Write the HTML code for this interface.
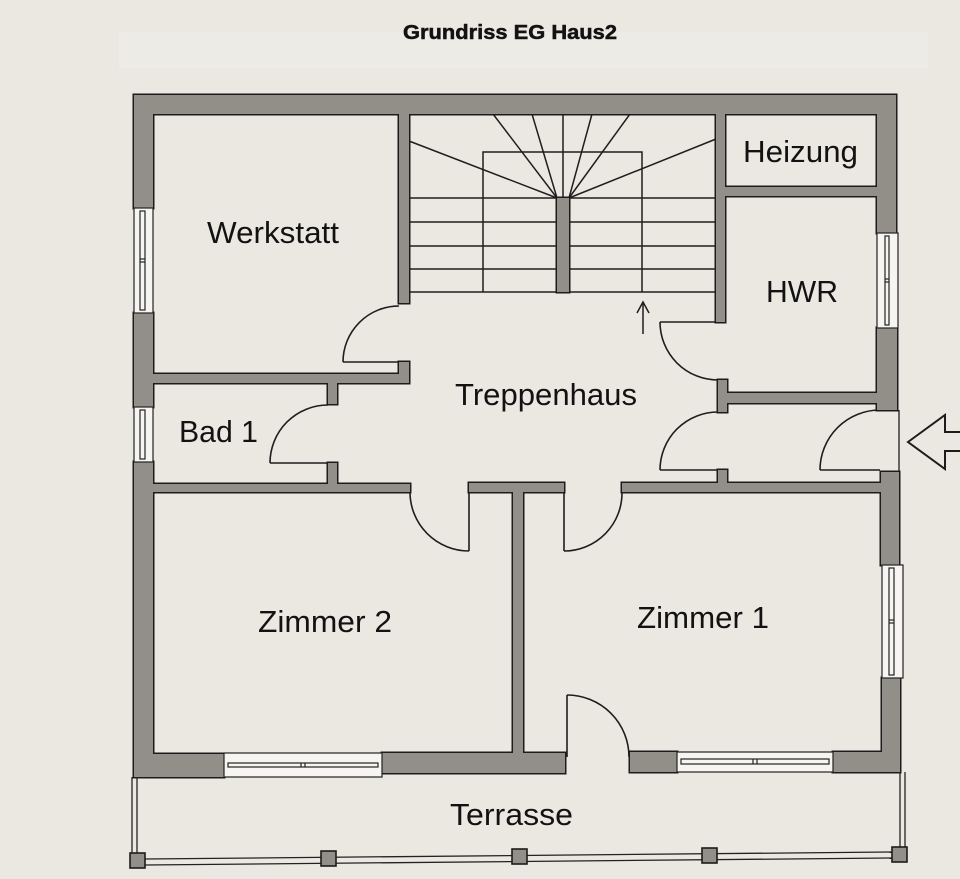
<!DOCTYPE html>
<html>
<head>
<meta charset="utf-8">
<style>
  html, body { margin:0; padding:0; background:#ebe8e2; }
  svg { display:block; }
  text { font-family: "Liberation Sans", Arial, sans-serif; fill:#121212; }
</style>
</head>
<body>
<svg width="960" height="879" viewBox="0 0 960 879" xmlns="http://www.w3.org/2000/svg">
  <rect x="0" y="0" width="960" height="879" fill="#ebe8e2"/>
  <rect x="119" y="32" width="809" height="36" fill="#edebe6"/>

  <!-- Title -->
  <text x="403" y="39" font-size="20" font-weight="bold" textLength="214" lengthAdjust="spacingAndGlyphs" stroke="#121212" stroke-width="0.5">Grundriss EG Haus2</text>

  <!-- Stairs -->
  <g stroke="#1e1e1e" stroke-width="1.5" fill="none">
    <line x1="409" y1="198" x2="716" y2="198"/>
    <line x1="409" y1="222" x2="716" y2="222"/>
    <line x1="409" y1="246" x2="716" y2="246"/>
    <line x1="409" y1="269" x2="716" y2="269"/>
    <line x1="409" y1="292" x2="716" y2="292"/>
    <polyline points="483,292 483,152 642,152 642,292"/>
    <line x1="409" y1="141" x2="557" y2="198"/>
    <line x1="493" y1="114" x2="557" y2="198"/>
    <line x1="532" y1="114" x2="557" y2="198"/>
    <line x1="563" y1="114" x2="563" y2="198"/>
    <line x1="592" y1="114" x2="569" y2="198"/>
    <line x1="630" y1="114" x2="569" y2="198"/>
    <line x1="716" y1="139" x2="569" y2="198"/>
    <!-- stair arrow -->
    <line x1="643" y1="303" x2="643" y2="334"/>
    <polyline points="637,313 643,302 649,313"/>
  </g>

  <!-- Doors -->
  <g stroke="#1e1e1e" stroke-width="1.6" fill="none">
    <line x1="343" y1="362" x2="399" y2="362"/>
    <path d="M343,362 A56,56 0 0 1 399,306"/>
    <line x1="270" y1="463" x2="328" y2="463"/>
    <path d="M270,463 A58,58 0 0 1 328,405"/>
    <line x1="469" y1="492" x2="469" y2="551"/>
    <path d="M410,492 A59,59 0 0 0 469,551"/>
    <line x1="564" y1="492" x2="564" y2="551"/>
    <path d="M564,551 A58,58 0 0 0 622,492"/>
    <line x1="660" y1="322" x2="718" y2="322"/>
    <path d="M660,322 A58,58 0 0 0 718,380"/>
    <line x1="660" y1="470" x2="718" y2="470"/>
    <path d="M660,470 A58,58 0 0 1 718,412"/>
    <line x1="820" y1="470" x2="880" y2="470"/>
    <path d="M820,470 A60,60 0 0 1 880,410"/>
    <line x1="899" y1="410" x2="899" y2="472" stroke-width="1.3"/>
    <line x1="567" y1="695" x2="567" y2="757"/>
    <path d="M567,695 A62,62 0 0 1 629,757"/>
  </g>

  <!-- Walls -->
  <defs>
    <g id="w">
      <rect x="134" y="95" width="762" height="19"/>
      <rect x="134" y="95" width="19" height="113"/>
      <rect x="134" y="313" width="19" height="94"/>
      <rect x="134" y="462" width="19" height="315"/>
      <rect x="877" y="95" width="19" height="138"/>
      <rect x="877" y="328" width="20" height="82"/>
      <rect x="881" y="472" width="18" height="93"/>
      <rect x="882" y="678" width="18" height="94"/>
      <rect x="134" y="754" width="90" height="23"/>
      <rect x="382" y="753" width="183" height="20"/>
      <rect x="630" y="752" width="47" height="20"/>
      <rect x="833" y="752" width="67" height="20"/>
      <rect x="399" y="114" width="10" height="189"/>
      <rect x="399" y="362" width="10" height="21"/>
      <rect x="153" y="374" width="256" height="9"/>
      <rect x="328" y="383" width="9" height="21"/>
      <rect x="328" y="463" width="9" height="22"/>
      <rect x="153" y="484" width="257" height="8"/>
      <rect x="469" y="483" width="95" height="9"/>
      <rect x="513" y="492" width="10" height="261"/>
      <rect x="622" y="483" width="260" height="9"/>
      <rect x="716" y="114" width="9" height="208"/>
      <rect x="725" y="187" width="152" height="9"/>
      <rect x="718" y="380" width="9" height="32"/>
      <rect x="718" y="393" width="160" height="10"/>
      <rect x="718" y="470" width="9" height="13"/>
      <rect x="557" y="198" width="12" height="94"/>
    </g>
  </defs>
  <use href="#w" fill="#1c1c1c" stroke="#1c1c1c" stroke-width="3"/>
  <use href="#w" fill="#918f88" stroke="none"/>

  <!-- Windows -->
  <g fill="#f6f5f1" stroke="#222" stroke-width="1.2">
    <rect x="134" y="208" width="19" height="105"/>
    <rect x="140" y="211" width="5" height="99"/>
    <line x1="140" y1="259" x2="145" y2="259"/><line x1="140" y1="262" x2="145" y2="262"/>

    <rect x="134" y="407" width="19" height="55"/>
    <rect x="140" y="410" width="5" height="49"/>

    <rect x="877" y="233" width="21" height="95"/>
    <rect x="885" y="236" width="4" height="89"/>
    <line x1="885" y1="279" x2="889" y2="279"/><line x1="885" y1="282" x2="889" y2="282"/>

    <rect x="882" y="565" width="21" height="113"/>
    <rect x="889" y="568" width="5" height="107"/>
    <line x1="889" y1="620" x2="894" y2="620"/><line x1="889" y1="623" x2="894" y2="623"/>

    <rect x="224" y="753" width="158" height="24"/>
    <rect x="228" y="763" width="150" height="4"/>
    <line x1="301" y1="763" x2="301" y2="767"/><line x1="305" y1="763" x2="305" y2="767"/>

    <rect x="677" y="752" width="156" height="20"/>
    <rect x="681" y="759" width="148" height="5"/>
    <line x1="753" y1="759" x2="753" y2="764"/><line x1="757" y1="759" x2="757" y2="764"/>
  </g>

  <!-- Terrace -->
  <g stroke="#222" stroke-width="1.3" fill="none">
    <line x1="132" y1="777" x2="132" y2="853"/>
    <line x1="137" y1="777" x2="137" y2="853"/>
    <line x1="900" y1="772" x2="900" y2="847"/>
    <line x1="905" y1="772" x2="905" y2="847"/>
    <line x1="145" y1="859" x2="892" y2="852"/>
    <line x1="145" y1="865" x2="892" y2="858"/>
  </g>
  <g fill="#918f88" stroke="#1c1c1c" stroke-width="1.6">
    <rect x="130" y="853" width="15" height="15"/>
    <rect x="321" y="851" width="15" height="15"/>
    <rect x="512" y="849" width="15" height="15"/>
    <rect x="702" y="848" width="15" height="15"/>
    <rect x="892" y="847" width="15" height="15"/>
  </g>

  <!-- Entrance arrow -->
  <polygon points="908,442 945,415 945,432 962,432 962,451 945,451 945,469" fill="#ebe8e2" stroke="#1c1c1c" stroke-width="2"/>

  <!-- Labels -->
  <g font-size="31">
    <text x="207" y="243" textLength="132" lengthAdjust="spacingAndGlyphs">Werkstatt</text>
    <text x="743" y="162" textLength="115" lengthAdjust="spacingAndGlyphs">Heizung</text>
    <text x="766" y="302" textLength="72" lengthAdjust="spacingAndGlyphs">HWR</text>
    <text x="455" y="405" textLength="182" lengthAdjust="spacingAndGlyphs">Treppenhaus</text>
    <text x="179" y="442" textLength="79" lengthAdjust="spacingAndGlyphs">Bad 1</text>
    <text x="258" y="632" textLength="134" lengthAdjust="spacingAndGlyphs">Zimmer 2</text>
    <text x="637" y="628" textLength="132" lengthAdjust="spacingAndGlyphs">Zimmer 1</text>
    <text x="450" y="825" textLength="123" lengthAdjust="spacingAndGlyphs">Terrasse</text>
  </g>
</svg>
</body>
</html>
